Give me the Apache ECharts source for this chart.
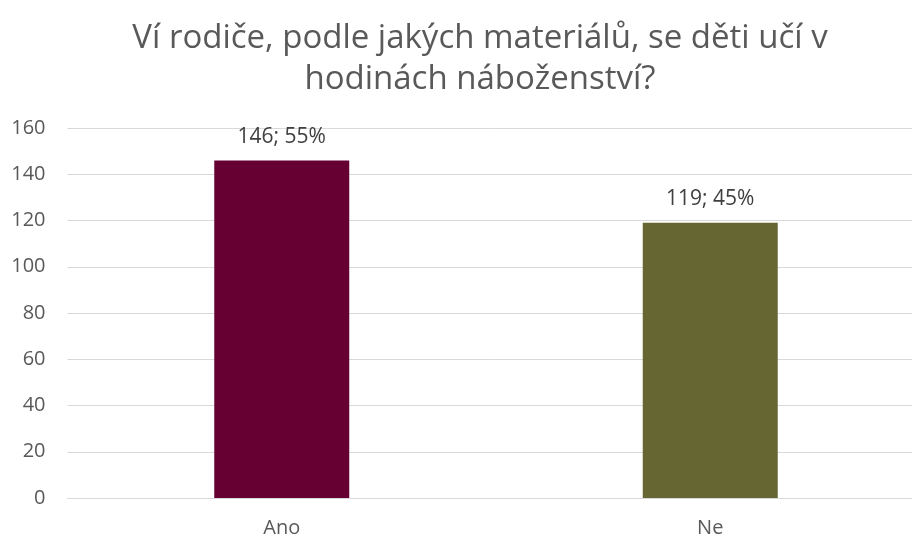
<!DOCTYPE html>
<html><head><meta charset="utf-8">
<script src="https://cdn.jsdelivr.net/npm/echarts@6/dist/echarts.min.js"></script>
<style>html,body{margin:0;padding:0;background:#fff}#c{width:912px;height:537px}</style>
</head><body><div id="c"></div>
<script>
const categories = ['Ano', 'Ne'];
const counts = [146, 119];
const percents = [55, 45];
const colors = ['#660033', '#666633'];
const yTicks = {min: 0, max: 160, interval: 20};
const titleText = 'Ví rodiče, podle jakých materiálů, se děti učí v\nhodinách náboženství?';

const FONT = 'Open Sans';
const chart = echarts.init(document.getElementById('c'), null, {renderer: 'canvas'});
chart.setOption({
  animation: false,
  title: {
    text: titleText, left: 475, top: 13, textAlign: 'center',
    textStyle: {fontFamily: FONT, fontSize: 33, fontWeight: 'normal', color: '#595959', lineHeight: 41}
  },
  grid: {left: 67.5, top: 128, right: -12.5, bottom: 39, containLabel: false, outerBoundsMode: 'none'},
  xAxis: {
    type: 'category', data: categories,
    axisLine: {lineStyle: {color: '#d9d9d9', width: 1}},
    axisTick: {show: false},
    axisLabel: {fontFamily: FONT, fontSize: 20, color: '#595959', margin: 20}
  },
  yAxis: {
    type: 'value', min: yTicks.min, max: yTicks.max, interval: yTicks.interval,
    axisLine: {show: false}, axisTick: {show: false},
    splitLine: {lineStyle: {color: '#d9d9d9', width: 1}},
    axisLabel: {fontFamily: FONT, fontSize: 20, color: '#595959', margin: 22}
  },
  series: [{
    type: 'bar', barWidth: 135,
    data: counts.map((v, i) => ({value: v, itemStyle: {color: colors[i]}})),
    label: {
      show: true, position: 'top', distance: 13,
      fontFamily: FONT, fontSize: 21, color: '#404040',
      formatter: p => counts[p.dataIndex] + '; ' + percents[p.dataIndex] + '%'
    }
  }]
});
</script></body></html>
